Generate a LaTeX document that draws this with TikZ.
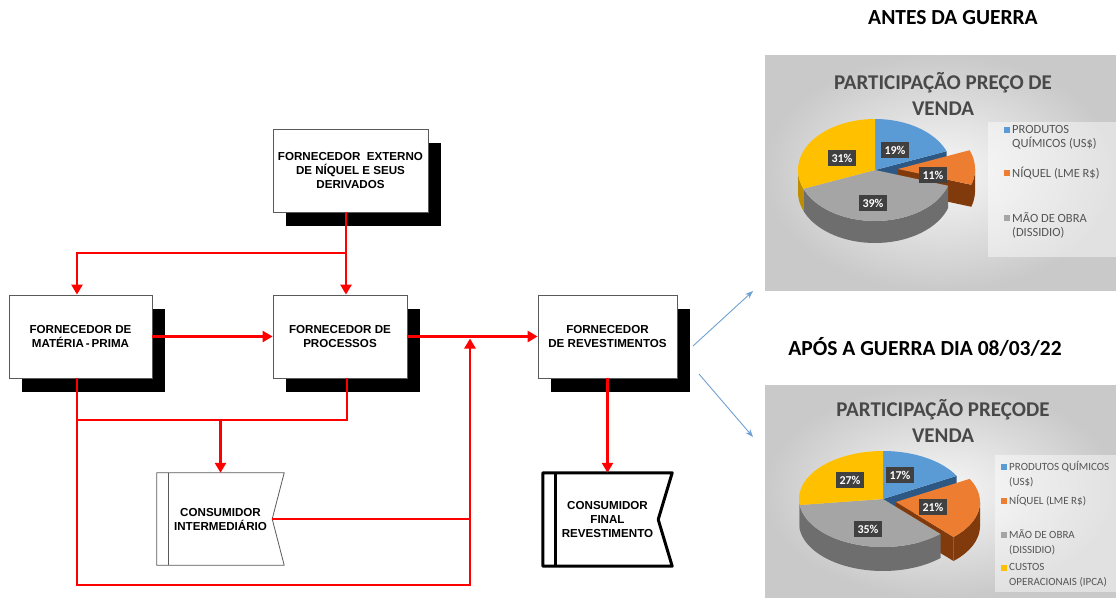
\documentclass[tikz,border=0pt]{standalone}
\usepackage{fontspec}
\setmainfont{Liberation Sans}
\newfontfamily\calfont{Carlito}
\usetikzlibrary{arrows.meta}
\definecolor{cblue}{RGB}{91,155,213}
\definecolor{corange}{RGB}{237,125,49}
\definecolor{cgray}{RGB}{165,165,165}
\definecolor{cyellow}{RGB}{255,192,0}
\definecolor{bdark}{RGB}{46,88,132}
\definecolor{odark}{RGB}{128,58,12}
\definecolor{gside}{RGB}{110,110,110}
\definecolor{yside}{RGB}{190,142,0}
\definecolor{labgray}{RGB}{64,64,64}
\definecolor{ttlgray}{RGB}{72,72,72}
\definecolor{legtxt}{RGB}{85,85,85}
\definecolor{arrblue}{RGB}{110,160,210}
\definecolor{boxline}{RGB}{90,90,90}
\pgfdeclarelayer{bgl}
\pgfdeclarelayer{shadowl}
\pgfsetlayers{bgl,shadowl,main}
\newcommand{\boxfont}{\fontsize{11.6}{14}\selectfont\bfseries}
\newcommand{\pietop}[7]{\fill[#7] (#1,#2) -- plot[domain=#5:#6,samples=40] ({#1+#3*cos(\x)},{#2-#4*sin(\x)}) -- cycle;}
\newcommand{\pieside}[8]{\fill[#8] plot[domain=#5:#6,samples=40] ({#1+#3*cos(\x)},{#2-#4*sin(\x)}) -- plot[domain=#6:#5,samples=40] ({#1+#3*cos(\x)},{#2+#7-#4*sin(\x)}) -- cycle;}
\newcommand{\pieface}[7]{\fill[#7] (#1,#2) -- ({#1+#3*cos(#5)},{#2-#4*sin(#5)}) -- ++(0,#6) -- (#1,{#2+#6}) -- cycle;}
\newcommand{\shadowof}[1]{\begin{pgfonlayer}{shadowl}\fill[black] ([shift={(13,14)}]#1.north west) rectangle ([shift={(13,14)}]#1.south east);\end{pgfonlayer}}
\begin{document}
\begin{tikzpicture}[x=1pt,y=-1pt,
  fbox/.style={draw=boxline, line width=0.8pt, fill=white, font=\boxfont, align=center, inner sep=2pt},
  cbox/.style={font=\boxfont, align=center, inner sep=2pt},
  rline/.style={draw=red, line width=2.6pt},
  rarrow/.style={rline, -{Triangle[width=11pt,length=10pt]}},
  barrow/.style={draw=arrblue, line width=0.9pt, -{Stealth[length=8pt,width=6pt]}},
  plab/.style={fill=labgray, text=white, font=\calfont\bfseries\fontsize{12}{14}\selectfont, inner sep=3.5pt},
  ttl/.style={text=ttlgray, font=\calfont\bfseries\fontsize{21}{26}\selectfont, align=center, inner sep=0pt},
  head/.style={text=black, font=\calfont\bfseries\fontsize{21.5}{26}\selectfont, inner sep=0pt},
  legA/.style={text=legtxt, font=\calfont\fontsize{12.5}{14}\selectfont, align=left, anchor=west, inner sep=0pt},
  legB/.style={text=legtxt, font=\calfont\fontsize{11}{15}\selectfont, align=left, anchor=west, inner sep=0pt},
  lsq/.style={minimum size=6pt, inner sep=0pt}
]
\useasboundingbox (0,0) rectangle (1116,597);
\begin{pgfonlayer}{bgl}\fill[white] (0,0) rectangle (1116,597);\end{pgfonlayer}

% ---------------- flow chart ----------------
\node[fbox, minimum width=155pt, minimum height=83pt] (ext) at (350.5,170.5) {FORNECEDOR\ \ EXTERNO\\DE NÍQUEL E SEUS\\DERIVADOS};
\node[fbox, minimum width=143pt, minimum height=83pt] (mat) at (80.5,336.5) {FORNECEDOR DE\\MATÉRIA\,-\,PRIMA};
\node[fbox, minimum width=134pt, minimum height=83pt] (proc) at (340,336.5) {FORNECEDOR DE\\PROCESSOS};
\node[fbox, minimum width=139pt, minimum height=83pt] (rev) at (607.5,336.5) {FORNECEDOR\\DE REVESTIMENTOS};
\shadowof{ext}\shadowof{mat}\shadowof{proc}\shadowof{rev}

\node[cbox, minimum width=127pt, minimum height=92pt] (ci) at (220.5,519) {CONSUMIDOR\\INTERMEDIÁRIO};
\draw[boxline, line width=0.8pt] (ci.north west) -- (ci.north east) -- ([xshift=-12pt]ci.east) coordinate (cin) -- (ci.south east) -- (ci.south west) -- cycle;
\draw[boxline, line width=0.8pt] ([xshift=12pt]ci.north west) -- ([xshift=12pt]ci.south west);

\node[cbox, minimum width=129pt, minimum height=93pt] (cf) at (607.5,519.5) {CONSUMIDOR\\FINAL\\REVESTIMENTO};
\draw[black, line width=3pt, line join=round] (cf.north west) -- (cf.north east) -- ([xshift=-14pt]cf.east) -- (cf.south east) -- (cf.south west) -- cycle;
\draw[black, line width=3pt] ([xshift=13pt]cf.north west) -- ([xshift=13pt]cf.south west);

\coordinate (j1) at (346,253);
\coordinate (jm) at (77,253);
\coordinate (jb1) at (77,420);
\coordinate (jb2) at (347,420);
\coordinate (jci) at (220.5,420);
\coordinate (jx) at (470,338.5);
\coordinate (jl) at (77,585);
\coordinate (jr) at (470,585);

\draw[rarrow] (ext.south -| j1) -- (j1 |- proc.north);
\draw[rarrow] (j1) -- (jm) -- (jm |- mat.north);
\draw[rarrow] (mat.east) -- (proc.west);
\draw[rarrow] (proc.east) -- (rev.west);
\draw[rline] (jm |- mat.south) -- (jb1) -- (jb2) -- (jb2 |- proc.south);
\draw[rarrow] (jci) -- (ci.north);
\draw[rarrow] (jb1) -- (jl) -- (jr) -- (jx);
\draw[rline] (cin) -- (cin -| jr);
\draw[rarrow] (rev.south) -- (cf.north);

\coordinate (b1s) at (693,346);
\coordinate (b1e) at (753,291);
\coordinate (b2s) at (699,374);
\coordinate (b2e) at (753,437);
\draw[barrow] (b1s) -- (b1e);
\draw[barrow] (b2s) -- (b2e);

% ---------------- headings ----------------
\node[head] (h1) at (953,18) {ANTES DA GUERRA};
\node[head] (h2) at (925,347) {APÓS A GUERRA DIA 08/03/22};

% ---------------- top chart ----------------
\shade[inner color=gray!6, outer color=gray!42] (765,55) rectangle (1116,290);
\fill[white, fill opacity=0.45] (988,122) rectangle (1116,257);
\node[ttl] (t1) at (943,93.5) {PARTICIPAÇÃO PREÇO DE\\VENDA};

\pieface{875}{170}{77}{51}{21.6}{22}{bdark}
\pieface{898}{169}{77}{51}{-18}{22}{odark}
\pieside{898}{169}{77}{51}{0}{-18}{22}{odark}
\pietop{898}{169}{77}{51}{21.6}{-18}{corange}
\pieside{875}{170}{77}{51}{-18}{-158.4}{22}{gside}
\pieside{875}{170}{77}{51}{-158.4}{-180}{22}{yside}
\pietop{875}{170}{77}{51}{90}{21.6}{cblue}
\pietop{875}{170}{77}{51}{-18}{-158.4}{cgray}
\pietop{875}{170}{77}{51}{-158.4}{-270}{cyellow}

\node[plab] (l19) at (895,150) {19\%};
\node[plab] (l11) at (933,175) {11\%};
\node[plab] (l39) at (873,203) {39\%};
\node[plab] (l31) at (842,158) {31\%};

\node[lsq, fill=cblue] (q1) at (1007,130) {};
\node[legA] (g1) at (1012,137) {PRODUTOS\\QUÍMICOS (US\$)};
\node[lsq, fill=corange] (q2) at (1007,173) {};
\node[legA] (g2) at (1012,173) {NÍQUEL (LME R\$)};
\node[lsq, fill=cgray] (q3) at (1007,218) {};
\node[legA] (g3) at (1012,225) {MÃO DE OBRA\\(DISSIDIO)};

% ---------------- bottom chart ----------------
\shade[inner color=gray!6, outer color=gray!42] (765,385) rectangle (1116,597);
\fill[white, fill opacity=0.45] (995,455) rectangle (1116,592);
\node[ttl] (t2) at (943,420.5) {PARTICIPAÇÃO PREÇODE\\VENDA};

\pieface{883}{499}{84}{48}{28.8}{24}{bdark}
\pieface{896}{502}{84}{48}{-46.8}{24}{odark}
\pieside{896}{502}{84}{48}{0}{-46.8}{24}{odark}
\pietop{896}{502}{84}{48}{28.8}{-46.8}{corange}
\pieside{883}{499}{84}{48}{-46.8}{-172.8}{24}{gside}
\pieside{883}{499}{84}{48}{-172.8}{-180}{24}{yside}
\pietop{883}{499}{84}{48}{90}{28.8}{cblue}
\pietop{883}{499}{84}{48}{-46.8}{-172.8}{cgray}
\pietop{883}{499}{84}{48}{-172.8}{-270}{cyellow}

\node[plab] (m17) at (900,475) {17\%};
\node[plab] (m21) at (933,507) {21\%};
\node[plab] (m35) at (868,529) {35\%};
\node[plab] (m27) at (850,480) {27\%};

\node[lsq, fill=cblue] (r1) at (1004,467) {};
\node[legB] (k1) at (1009,474.5) {PRODUTOS QUÍMICOS\\(US\$)};
\node[lsq, fill=corange] (r2) at (1004,501) {};
\node[legB] (k2) at (1009,501) {NÍQUEL (LME R\$)};
\node[lsq, fill=cgray] (r3) at (1004,535) {};
\node[legB] (k3) at (1009,542.5) {MÃO DE OBRA\\(DISSIDIO)};
\node[lsq, fill=cyellow] (r4) at (1004,568) {};
\node[legB] (k4) at (1009,575) {CUSTOS\\OPERACIONAIS (IPCA)};
\end{tikzpicture}
\end{document}
